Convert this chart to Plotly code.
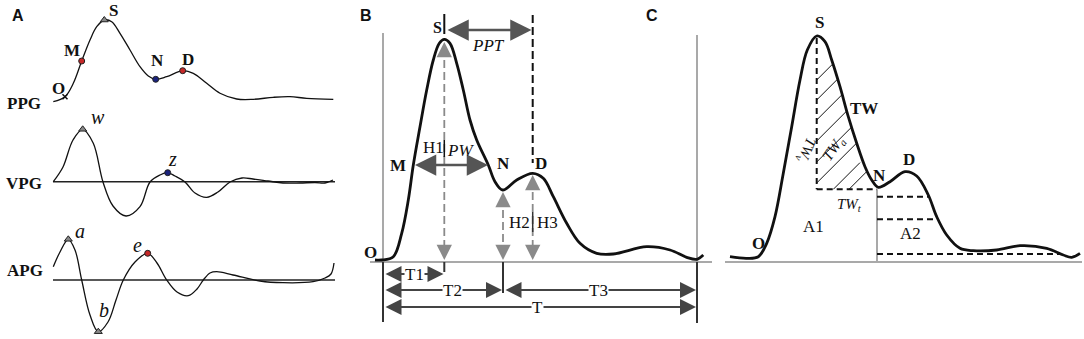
import plotly.graph_objects as go

# ---------------- data (image units) ----------------
# Panel A: PPG, VPG, APG waveforms
ppg_x = [53.3, 65, 73.3, 81.7, 90, 96.7, 104.3, 111.7, 120, 130, 140, 148.3, 155.7, 166.7, 182.7, 193.3, 206.7, 220, 236.7, 253.3, 273.3, 290, 306.7, 333.3]
ppg_y = [101.7, 96.7, 83.3, 61, 40, 26.7, 20, 21.7, 33.3, 50, 66.7, 76, 79.3, 76.7, 70.7, 73.3, 83.3, 93.3, 99, 99.3, 97.3, 96.7, 98.3, 99.3]
vpg_x = [53.3, 63, 73, 82.7, 93.3, 103, 113, 126, 140, 150, 160, 167.7, 175, 185, 195, 206.7, 218, 230, 242, 253, 268, 283, 300, 315, 325, 333]
vpg_y = [181.7, 167, 140, 129.3, 143.3, 182, 206, 216, 206.7, 182, 175, 172.7, 176, 182, 193, 197.3, 192, 182, 178, 179, 181, 183, 183, 182.5, 183, 180]
apg_x = [53.3, 60, 68.3, 75, 81.7, 90, 98.3, 108, 116, 123.3, 135, 147.7, 157, 166.7, 177, 188.3, 197, 203.3, 210, 216.7, 233, 260, 283, 313, 325, 331, 334]
apg_y = [266.7, 252, 239.3, 250, 280, 315, 331.7, 322, 300, 280, 262, 253.3, 263, 280, 292, 295.7, 289, 280, 273, 271.7, 275, 281, 282.7, 281.7, 278, 274, 263]
a_base_x = [53, 335]
vpg_base_y = 181.7
apg_base_y = 280

# points on panel A
a_tri_x = [104.3, 82.7, 68.3, 98.3]
a_tri_y = [20, 129.3, 239.3, 331.7]
a_red_x = [81.7, 182.7, 147.7]
a_red_y = [61, 70.7, 253.3]
a_blue_x = [155.7, 167.7]
a_blue_y = [79.3, 172.7]
a_o = (65, 96.7)

# Panel B waveform
b_x = [375, 381.7, 393.3, 401.7, 408.3, 413.3, 420, 426.7, 433.3, 439.3, 444.3, 450, 456.7, 463.3, 470, 476.7, 488.3, 495, 502.7, 516.7, 532.7, 543.3, 553.3, 566.7, 580, 596.7, 613.3, 646.7, 670, 686.7, 696.7, 703.3]
b_y = [260, 260, 256.7, 233.3, 200, 165, 126.7, 90, 60, 43.3, 39.3, 43.3, 63.3, 90, 120, 140, 165, 181.7, 190, 180, 173.3, 178.3, 196.7, 223.3, 243.3, 253.3, 254, 246.7, 250, 257.3, 259.3, 255]
b_base_y = 262
b_left, b_right = 383, 697
b_S_x, b_N_x, b_D_x = 444.3, 503, 532.7

# Panel C waveform
c_x = [730, 746.7, 758.3, 766.7, 775, 783.3, 791.7, 800, 807.3, 816.7, 825, 831.7, 840, 848.3, 856.7, 865, 871.7, 878.3, 890, 905, 916.7, 928.3, 936.7, 946.7, 960, 973.3, 996.7, 1020, 1046.7, 1063.3, 1071.7, 1080]
c_y = [256.7, 258.3, 256.7, 243.3, 216.7, 173.3, 126.7, 80, 50, 36, 41.7, 60, 86.7, 116.7, 143.3, 166.7, 180, 187.3, 181.7, 171.7, 176, 195, 216.7, 235, 248.3, 250.7, 250, 245.7, 248.3, 255, 257.3, 253.3]
c_base_y = 262
c_S_x, c_N_x, c_N_y = 816.7, 877, 189.3
c_slice_y = [196.7, 219.3, 254]
c_slice_x_end = [928.3, 937, 1060]
hatch_x0 = [816.7, 816.7, 816.7, 816.7, 816.7, 816.7, 833.3, 849]
hatch_y0 = [80, 100, 120, 141, 162, 183, 189.3, 189.3]
hatch_x1 = [832.4, 837.2, 841.8, 846.6, 851.5, 856.3, 860, 866.5]
hatch_y1 = [64.3, 79.5, 94.9, 111.1, 127.2, 143.4, 162.6, 171.8]

# ---------------- figure ----------------
fig = go.Figure()
BLACK = "#111"
GRAY = "#a9a9a9"
DGRAY = "#555"
AGRAY = "#8a8a8a"


def line(xs, ys, color=BLACK, width=2, dash=None, shape="linear"):
    fig.add_trace(go.Scatter(x=xs, y=ys, mode="lines", hoverinfo="skip",
                             line=dict(color=color, width=width, dash=dash, shape=shape)))


# Panel A
line(a_base_x, [vpg_base_y] * 2, "#222", 1.6)
line(a_base_x, [apg_base_y] * 2, "#222", 1.6)
line(ppg_x, ppg_y, BLACK, 1.3, shape="spline")
line(vpg_x, vpg_y, BLACK, 1.3, shape="spline")
line(apg_x, apg_y, BLACK, 1.3, shape="spline")
fig.add_trace(go.Scatter(x=a_tri_x, y=a_tri_y, mode="markers", hoverinfo="skip",
                         marker=dict(symbol="triangle-up", size=7, color="#888", line=dict(color="#222", width=1))))
fig.add_trace(go.Scatter(x=a_red_x, y=a_red_y, mode="markers", hoverinfo="skip",
                         marker=dict(symbol="circle", size=6, color="#c62828", line=dict(color="#222", width=1))))
fig.add_trace(go.Scatter(x=a_blue_x, y=a_blue_y, mode="markers", hoverinfo="skip",
                         marker=dict(symbol="circle", size=6, color="#1a237e", line=dict(color="#222", width=1))))
fig.add_trace(go.Scatter(x=[a_o[0]], y=[a_o[1]], mode="markers", hoverinfo="skip",
                         marker=dict(symbol="x-thin", size=5, line=dict(color="#111", width=1.5))))

# Panel B lines
line([b_left, b_left], [33, b_base_y], GRAY, 2)
line([b_right, b_right], [35, b_base_y], GRAY, 2)
line([370, 712], [b_base_y, b_base_y], GRAY, 2)
line([b_left, b_left], [b_base_y, 322], "#333", 2)
line([b_right, b_right], [b_base_y, 323], "#333", 2)
line([b_N_x, b_N_x], [b_base_y, 293], "#333", 2)
line([b_S_x, b_S_x], [b_base_y, 272], "#333", 2)
line([b_S_x, b_S_x], [14, 34], BLACK, 2)
line([b_D_x, b_D_x], [15, 163], BLACK, 2, dash="8px,4px")
line([b_S_x, b_S_x], [48, 255], AGRAY, 1.8, dash="8px,4px")
line([b_N_x, b_N_x], [198, 255], AGRAY, 1.8, dash="8px,4px")
line([b_D_x, b_D_x], [180, 255], AGRAY, 1.8, dash="8px,4px")
line([b_S_x, b_S_x], [140, 157], BLACK, 1.5)
line([b_D_x, b_D_x], [212, 232], "#333", 1.5)
line(b_x, b_y, BLACK, 2.8, shape="spline")

# Panel C lines
line([725, 1082], [c_base_y, c_base_y], GRAY, 2)
line([c_N_x, c_N_x], [c_N_y, c_base_y], GRAY, 2)
for yy, xe in zip(c_slice_y, c_slice_x_end):
    line([c_N_x, xe], [yy, yy], BLACK, 2, dash="6px,4px")
line([c_S_x, c_S_x], [38, c_N_y], BLACK, 2, dash="6px,4px")
line([c_S_x, c_N_x], [c_N_y, c_N_y], BLACK, 2, dash="6px,4px")
for x0, y0, x1, y1 in zip(hatch_x0, hatch_y0, hatch_x1, hatch_y1):
    line([x0, x1], [y0, y1], BLACK, 1)
line(c_x, c_y, BLACK, 2.8, shape="spline")

ann = []


def arrow(x0, x1, y, both=True, color=DGRAY, width=2.5, size=1.3):
    ann.append(dict(x=x1, y=y, ax=x0, ay=y, xref="x", yref="y", axref="x", ayref="y",
                    text="", showarrow=True, arrowhead=2, startarrowhead=2,
                    arrowside="end+start" if both else "end",
                    arrowsize=size, startarrowsize=size, arrowwidth=width, arrowcolor=color))


def varrow(x, ytip, ytail, color=AGRAY, width=1.8, size=1.7):
    ann.append(dict(x=x, y=ytip, ax=x, ay=ytail, xref="x", yref="y", axref="x", ayref="y",
                    text="", showarrow=True, arrowhead=2, arrowsize=size, arrowwidth=width,
                    arrowcolor=color))


# double arrows panel B
arrow(446, 531.5, 30, size=1.7)
arrow(413.5, 488, 165, size=1.7)
arrow(384, 443.5, 274, color="#444", width=2, size=1.6)
arrow(384, 502, 290, color="#444", width=2, size=1.6)
arrow(504, 696, 290, color="#444", width=2, size=1.6)
arrow(384, 696, 307, color="#444", width=2, size=1.6)
# gray vertical arrowheads
varrow(b_S_x, 42, 57)
varrow(b_S_x, 260, 245)
varrow(b_N_x, 192, 207)
varrow(b_N_x, 260, 245)
varrow(b_D_x, 175, 190)
varrow(b_D_x, 260, 245)

SERIF = "Liberation Serif"


def txt(x, y, s, size=17, bold=False, italic=False, family=SERIF, angle=0, bg=None, color=BLACK):
    if bold:
        s = "<b>" + s + "</b>"
    if italic:
        s = "<i>" + s + "</i>"
    d = dict(x=x, y=y, xref="x", yref="y", text=s, showarrow=False, textangle=angle,
             font=dict(family=family, size=size, color=color), xanchor="center", yanchor="middle")
    if bg:
        d.update(bgcolor=bg, borderpad=0)
    ann.append(d)


# panel letters
txt(18, 15, "A", 16, True, family="Liberation Sans")
txt(366, 15, "B", 16, True, family="Liberation Sans")
txt(652, 15, "C", 16, True, family="Liberation Sans")

# panel A labels
txt(113, 10, "S", 17, True)
txt(72, 50, "M", 17, True)
txt(157, 60, "N", 17, True)
txt(188, 59, "D", 17, True)
txt(58, 88, "O", 17, True)
txt(24, 103, "PPG", 17, True)
txt(24, 183, "VPG", 17, True)
txt(25, 270, "APG", 17, True)
txt(98, 117, "w", 20, italic=True)
txt(172, 159, "z", 20, italic=True)
txt(80, 231, "a", 20, italic=True)
txt(104, 310, "b", 20, italic=True)
txt(137, 245, "e", 20, italic=True)

# panel B labels
txt(437, 27, "S", 16, True)
txt(488, 45, "PPT", 17, italic=True)
txt(433, 147, "H1", 17)
txt(460, 150, "PW", 17, italic=True)
txt(398, 165, "M", 17, True)
txt(503, 163, "N", 17, True)
txt(541, 163, "D", 17, True)
txt(519, 222, "H2", 17)
txt(547, 222, "H3", 17)
txt(370, 252, "O", 17, True)
txt(414, 274, "T1", 17, bg="white")
txt(452, 290, "T2", 17, bg="white")
txt(598, 290, "T3", 17, bg="white")
txt(537, 307, "T", 17, bg="white")

# panel C labels
txt(819, 22, "S", 17, True)
txt(864, 108, "TW", 17, True)
txt(806, 150, "TW<sub>v</sub>", 15, italic=True, angle=112)
txt(834, 149, "TW<sub>a</sub>", 15, italic=True, angle=-55)
txt(849, 205, "TW<sub>t</sub>", 15, italic=True)
txt(879, 175, "N", 17, True)
txt(909, 159, "D", 17, True)
txt(813, 226, "A1", 17)
txt(910, 233, "A2", 17)
txt(758, 243, "O", 17, True)

fig.update_layout(
    width=1084, height=339, margin=dict(l=0, r=0, t=0, b=0),
    paper_bgcolor="white", plot_bgcolor="white", showlegend=False,
    annotations=ann,
    xaxis=dict(range=[0, 1084], visible=False, fixedrange=True),
    yaxis=dict(range=[339, 0], visible=False, fixedrange=True),
)
fig.write_html("out.html", config={"displayModeBar": False},
               post_script="document.body.style.margin='0px';document.body.style.overflow='hidden';")
